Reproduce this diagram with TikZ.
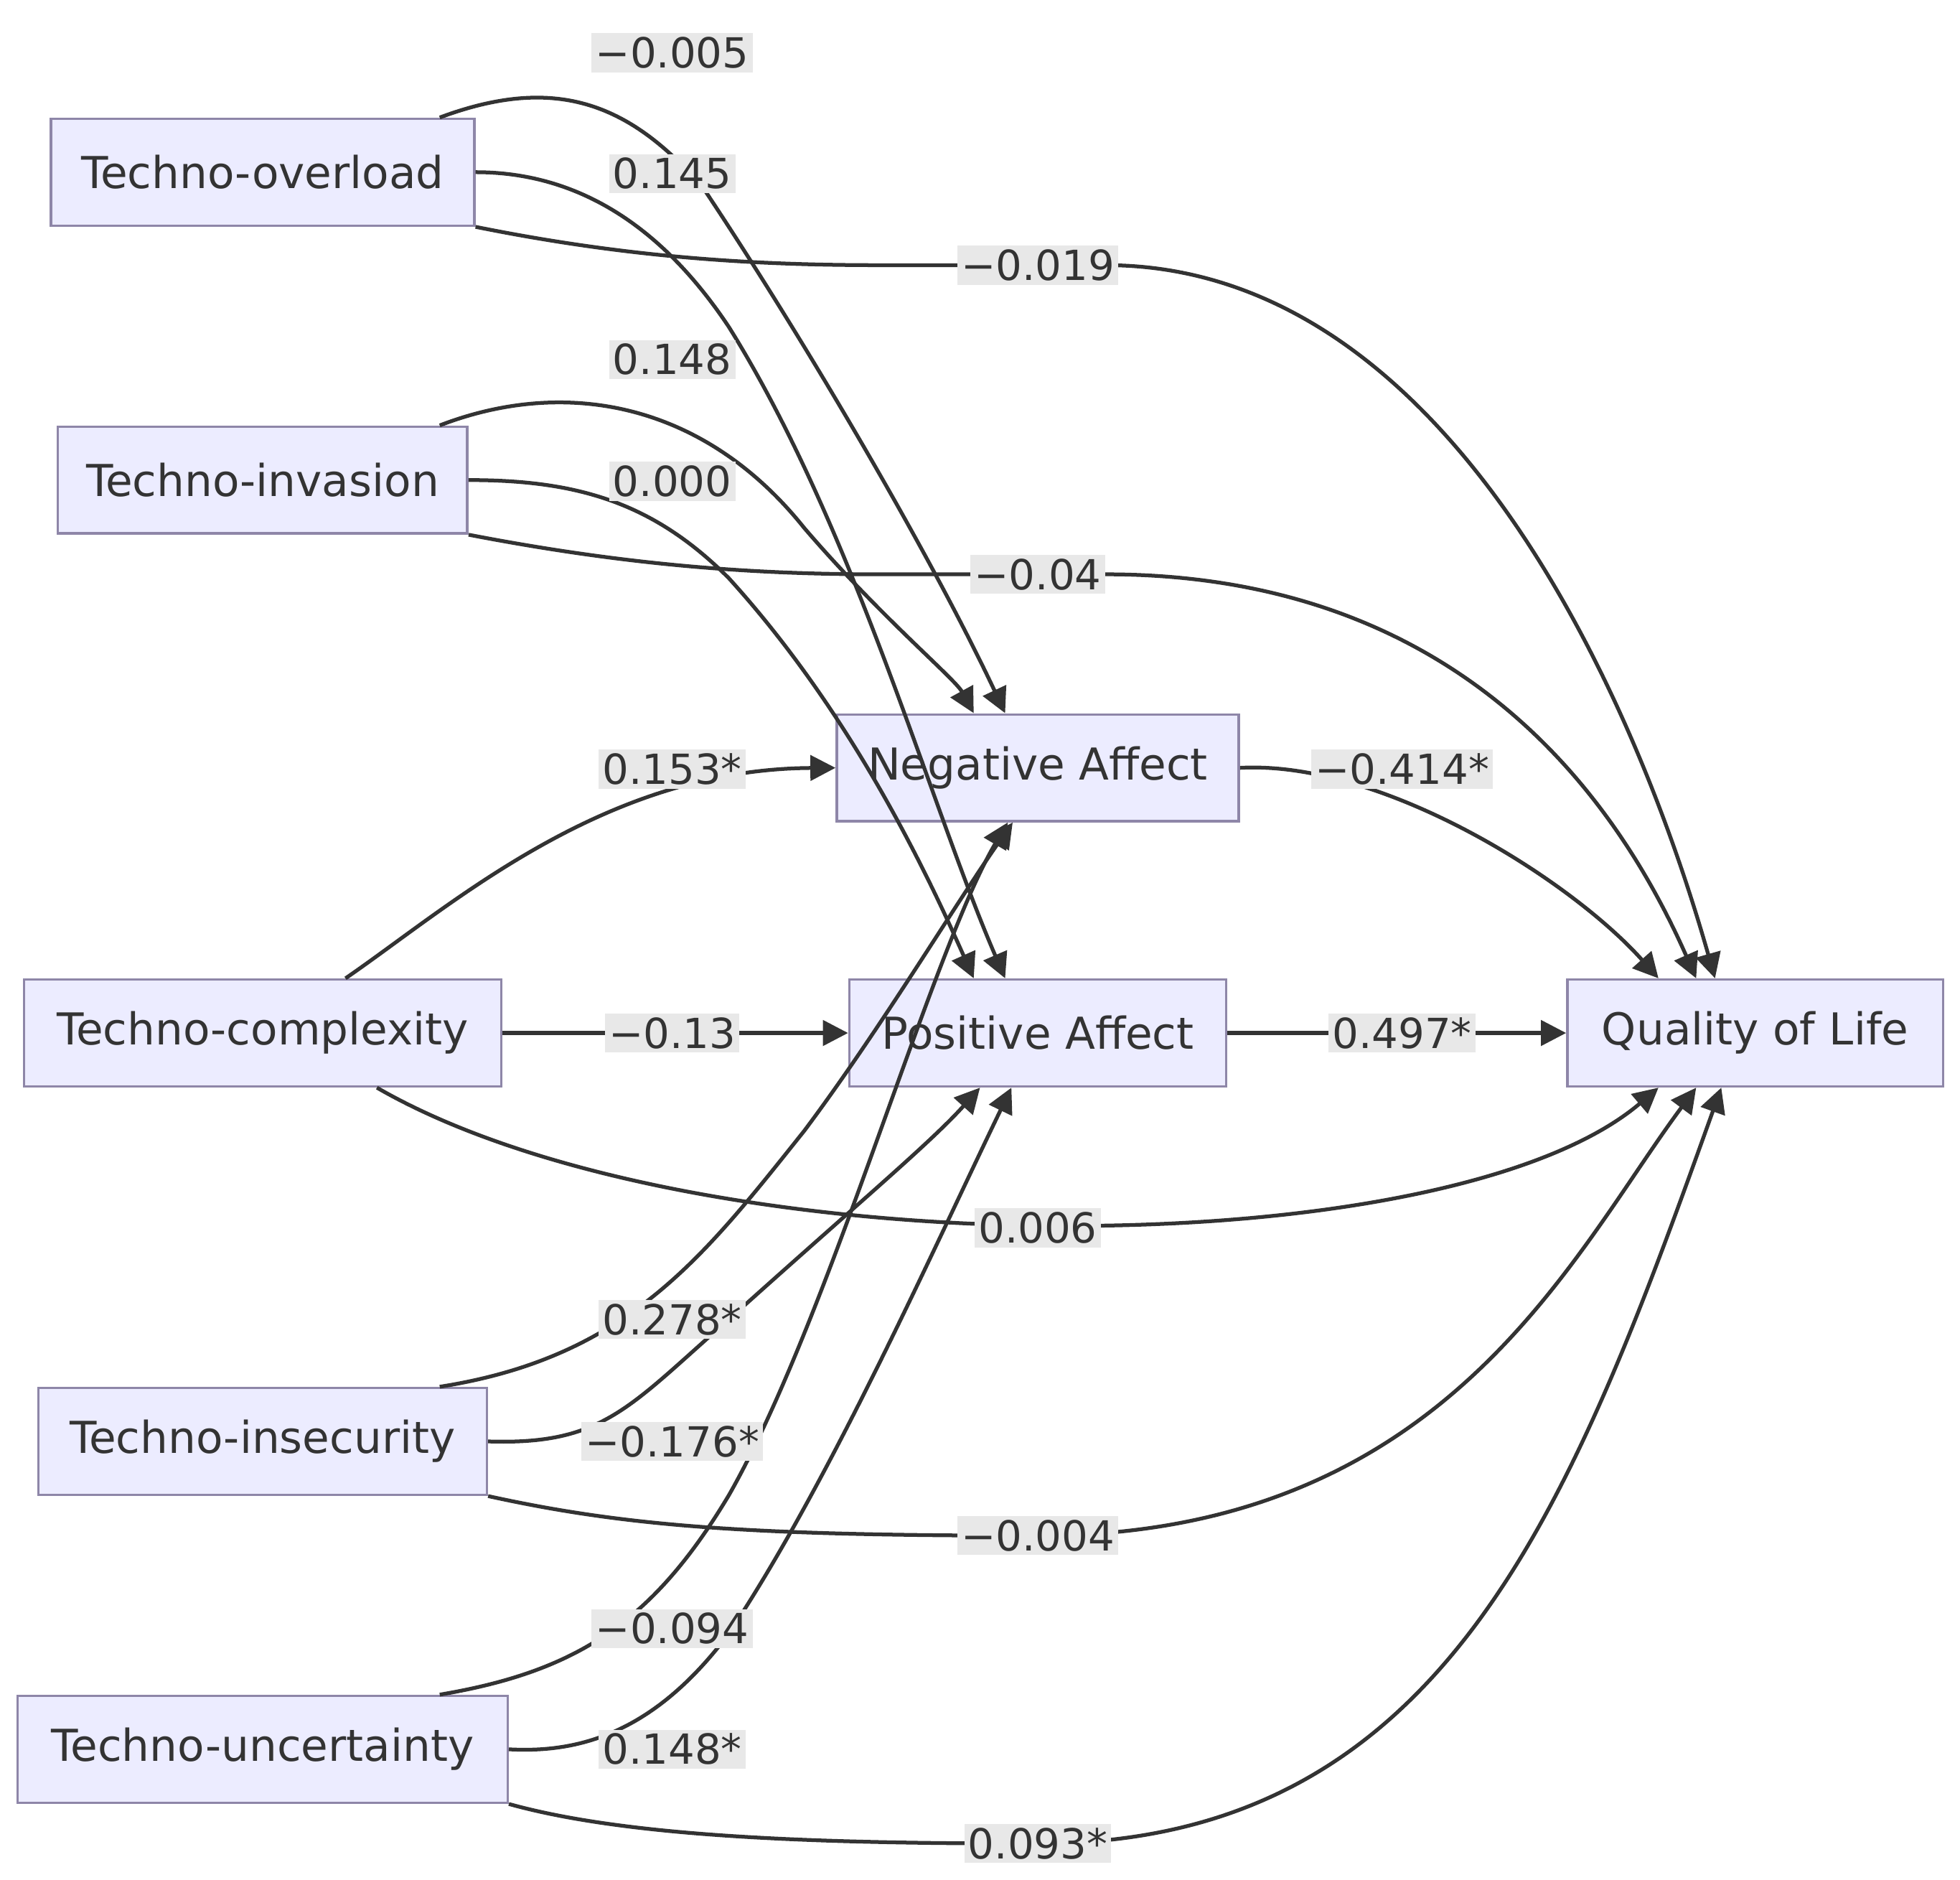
\documentclass[tikz,border=0pt]{standalone}
\usepackage{fontspec}
\setmainfont{DejaVu Sans}
\usetikzlibrary{arrows.meta}
\definecolor{nfill}{HTML}{ECECFF}
\definecolor{nline}{HTML}{8E86A8}
\definecolor{eline}{HTML}{333333}
\definecolor{lfill}{HTML}{E8E8E8}
\begin{document}
\begin{tikzpicture}[x=0.5pt,y=-0.5pt,
  box/.style={draw=nline,fill=nfill,line width=1pt,minimum height=42.5pt,inner xsep=2pt,font=\fontsize{17.5}{20}\selectfont,text=eline},
  lab/.style={fill=lfill,inner sep=1.5pt,font=\fontsize{16.5}{19}\selectfont,text=eline},
  ed/.style={draw=eline,line width=1.5pt,-{Triangle[length=10pt,width=10pt]}}]
\useasboundingbox (0,0) rectangle (1560,1496);
\node[box,minimum width=168.5pt] (TO) at (209,137) {Techno-overload};
\node[box,minimum width=163pt] (TI) at (209,382) {Techno-invasion};
\node[box,minimum width=190pt] (TC) at (209,822) {Techno-complexity};
\node[box,minimum width=178.5pt] (TS) at (209,1147) {Techno-insecurity};
\node[box,minimum width=195pt] (TU) at (209,1392) {Techno-uncertainty};
\node[box,minimum width=160pt] (NA) at (826,611) {Negative Affect};
\node[box,minimum width=150pt] (PA) at (826,822) {Positive Affect};
\node[box,minimum width=149.5pt] (QL) at (1397,822) {Quality of Life};

\draw[ed] ([xshift=70.5pt]TO.north) .. controls (440,60) and (500,80) .. (560,150) .. controls (640,270) and (740,440) .. ([xshift=-13pt]NA.north);
\draw[ed] (TO.east) .. controls (450,137) and (520,170) .. (580,260) .. controls (680,420) and (740,640) .. ([xshift=-13pt]PA.north);
\draw[ed] (TO.south east) .. controls (500,205) and (600,211) .. (700,211) -- (880,211) .. controls (1150,211) and (1300,550) .. ([xshift=-16pt]QL.north);
\draw[ed] ([xshift=70.5pt]TI.north) .. controls (450,300) and (560,320) .. (640,420) .. controls (700,490) and (760,540) .. ([xshift=-25.5pt]NA.north);
\draw[ed] (TI.east) .. controls (460,382) and (520,400) .. (580,460) .. controls (680,570) and (740,700) .. ([xshift=-25.5pt]PA.north);
\draw[ed] (TI.south east) .. controls (500,450) and (600,457) .. (700,457) -- (880,457) .. controls (1150,457) and (1280,620) .. ([xshift=-23.5pt]QL.north);
\draw[ed] ([xshift=33pt]TC.north) .. controls (360,720) and (480,612) .. (NA.west);
\draw[ed] (TC.east) -- (PA.west);
\draw[ed] ([xshift=45.5pt]TC.south) .. controls (550,1010) and (1150,1010) .. ([xshift=-38.5pt]QL.south);
\draw[ed] ([xshift=70.5pt]TS.north) .. controls (500,1080) and (560,1000) .. (640,900) .. controls (700,820) and (760,720) .. ([xshift=-10pt]NA.south);
\draw[ed] (TS.east) .. controls (480,1150) and (500,1120) .. (580,1050) .. controls (680,960) and (740,910) .. ([xshift=-23pt]PA.south);
\draw[ed] (TS.south east) .. controls (500,1215) and (600,1222) .. (826,1222) .. controls (1150,1222) and (1250,1000) .. ([xshift=-23.5pt]QL.south);
\draw[ed] ([xshift=70.5pt]TU.north) .. controls (460,1330) and (520,1290) .. (580,1190) .. controls (660,1050) and (740,760) .. ([xshift=-12pt]NA.south);
\draw[ed] (TU.east) .. controls (460,1395) and (520,1380) .. (580,1300) .. controls (660,1180) and (740,1000) .. ([xshift=-10.5pt]PA.south);
\draw[ed] (TU.south east) .. controls (500,1462) and (650,1467) .. (826,1467) .. controls (1150,1467) and (1250,1200) .. ([xshift=-13.5pt]QL.south);
\draw[ed] (NA.east) .. controls (1100,605) and (1250,700) .. ([xshift=-38.5pt]QL.north);
\draw[ed] (PA.east) -- (QL.west);

\node[lab] (l1) at (535,42) {−0.005};
\node[lab] (l2) at (535,138) {0.145};
\node[lab] (l3) at (826,211) {−0.019};
\node[lab] (l4) at (535,286) {0.148};
\node[lab] (l5) at (535,383) {0.000};
\node[lab] (l6) at (826,457) {−0.04};
\node[lab] (l7) at (535,612) {0.153*};
\node[lab] (l8) at (1116,612) {−0.414*};
\node[lab] (l9) at (535,822) {−0.13};
\node[lab] (l10) at (1116,822) {0.497*};
\node[lab] (l11) at (826,977) {0.006};
\node[lab] (l12) at (535,1050) {0.278*};
\node[lab] (l13) at (535,1147) {−0.176*};
\node[lab] (l14) at (826,1222) {−0.004};
\node[lab] (l15) at (535,1296) {−0.094};
\node[lab] (l16) at (535,1392) {0.148*};
\node[lab] (l17) at (826,1467) {0.093*};
\end{tikzpicture}
\end{document}
